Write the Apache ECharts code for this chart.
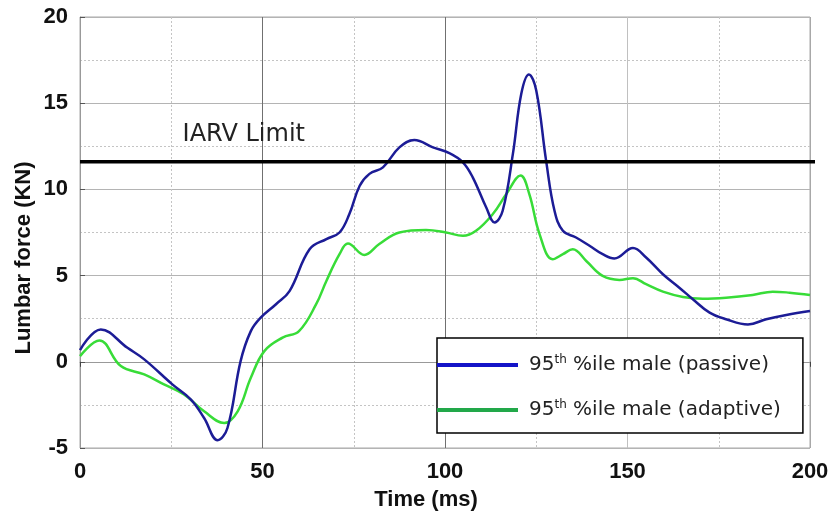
<!DOCTYPE html>
<html>
<head>
<meta charset="utf-8">
<script src="https://cdn.jsdelivr.net/npm/echarts@6/dist/echarts.min.js"></script>
<style>
html,body{margin:0;padding:0;background:#fff;}
#chart{width:832px;height:519px;}
</style>
</head>
<body>
<div id="chart"></div>
<script>
var passiveName = '95th %ile male (passive)';
var adaptiveName = '95th %ile male (adaptive)';

var passiveTime = [0, 5.7, 13, 17.6, 25.3, 30.4, 34, 37.7, 40.4, 44, 46.8, 49.5, 53.7, 57.4, 62.9, 67.5, 71.1, 73.8, 76.6, 79.3, 83, 87.5, 91.6, 96.7, 101.2, 104.9, 107.6, 111.3, 113.6, 115.8, 118.6, 120.9, 123, 125, 127.7, 130, 132.3, 135.9, 139.6, 143.2, 146.4, 151.5, 155.1, 159.7, 164.2, 167.9, 172.5, 177, 183, 188, 193.5, 200];
var passiveForce = [0.68, 1.88, 0.81, 0.14, -1.31, -2.19, -3.26, -4.55, -3.84, 0.04, 1.78, 2.56, 3.34, 4.1, 6.53, 7.12, 7.5, 8.57, 10.2, 10.9, 11.28, 12.44, 12.87, 12.44, 12.1, 11.57, 10.7, 8.95, 8.08, 8.76, 12.06, 15.55, 16.67, 15.74, 11.67, 8.76, 7.6, 7.21, 6.73, 6.24, 5.99, 6.6, 6.05, 5.08, 4.3, 3.63, 2.85, 2.47, 2.17, 2.47, 2.72, 2.95];

var adaptiveTime = [0, 5.3, 11.2, 17.6, 23, 28.5, 34, 39.5, 43.2, 46.8, 50.5, 55.5, 60, 64.7, 67.5, 71.1, 73.4, 77.9, 82, 87.5, 94.8, 100.3, 104.9, 108.5, 113.1, 116.8, 120.7, 123.1, 125.9, 129.5, 132.3, 135, 138.7, 143.2, 147.8, 151.5, 155.1, 159.7, 165.2, 170.6, 177, 184.3, 189.8, 194.4, 200];
var adaptiveForce = [0.33, 1.24, -0.25, -0.73, -1.31, -1.9, -2.87, -3.55, -2.87, -0.93, 0.62, 1.4, 1.78, 3.34, 4.69, 6.24, 6.86, 6.2, 6.83, 7.5, 7.64, 7.5, 7.31, 7.6, 8.57, 9.73, 10.8, 9.73, 7.41, 5.95, 6.24, 6.53, 5.85, 4.98, 4.75, 4.85, 4.5, 4.07, 3.76, 3.66, 3.72, 3.88, 4.07, 4.01, 3.88];

var xTicks = [0, 50, 100, 150, 200];
var yTicks = [-5, 0, 5, 10, 15, 20];
var iarvLimit = 11.6;
var iarvLabel = 'IARV Limit';
var iarvLabelAt = [28.1, 13.15];

function pairs(xs, ys) { return xs.map(function (x, i) { return [x, ys[i]]; }); }

var chart = echarts.init(document.getElementById('chart'), null, {renderer: 'canvas'});
var tickFont = {fontFamily: 'Liberation Sans, Arial, sans-serif', fontWeight: 'bold', fontSize: 22, color: '#111'};

chart.setOption({
  animation: false,
  backgroundColor: '#fff',
  grid: {left: 80, right: 22, top: 17, bottom: 71, show: true, borderColor: '#a8a8a8', borderWidth: 1, outerBoundsMode: 'none'},
  xAxis: {
    type: 'value', min: xTicks[0], max: xTicks[xTicks.length - 1], interval: 50,
    name: 'Time (ms)', nameLocation: 'middle', nameGap: 41, nameMoveOverlap: false,
    nameTextStyle: Object.assign({}, tickFont, {padding: [0, 38, 0, 0]}),
    axisLine: {show: true, lineStyle: {color: '#999', width: 1}},
    axisTick: {show: true, inside: false, length: 5, lineStyle: {color: '#444'}},
    axisLabel: Object.assign({}, tickFont, {margin: 13}),
    splitLine: {show: true, lineStyle: {color: ['#a8a8a8', '#707070', '#707070', '#c0c0c0', '#a8a8a8'], width: 1}},
    minorTick: {show: false, splitNumber: 2},
    minorSplitLine: {show: true, lineStyle: {color: '#c4c4c4', type: [2, 2], width: 1}}
  },
  yAxis: {
    type: 'value', min: yTicks[0], max: yTicks[yTicks.length - 1], interval: 5,
    name: 'Lumbar force (KN)', nameLocation: 'middle', nameGap: 45, nameMoveOverlap: false,
    nameTextStyle: Object.assign({}, tickFont, {padding: [0, 51, 0, 0]}),
    axisLine: {show: true, lineStyle: {color: '#999', width: 1}},
    axisTick: {show: true, inside: true, length: 5, lineStyle: {color: '#555'}},
    axisLabel: Object.assign({}, tickFont, {margin: 12}),
    splitLine: {show: true, lineStyle: {color: '#b4b4b4', width: 1}},
    minorTick: {show: false, splitNumber: 2},
    minorSplitLine: {show: true, lineStyle: {color: '#c4c4c4', type: [2, 2], width: 1}}
  },
  legend: {
    orient: 'vertical', left: 437, top: 338,
    padding: [15, 22, 11, 0],
    itemWidth: 81, itemHeight: 4, itemGap: 21, icon: 'rect',
    backgroundColor: '#fff', borderColor: '#000', borderWidth: 1.5, borderRadius: 0,
    data: [
      {name: passiveName, itemStyle: {color: '#1414c8'}},
      {name: adaptiveName, itemStyle: {color: '#22a84a'}}
    ],
    formatter: function (n) { return n.replace('95th', '95{sup|th}'); },
    textStyle: {
      fontFamily: 'DejaVu Sans', fontSize: 20, color: '#222', lineHeight: 24, padding: [0, 0, 0, 6],
      rich: {sup: {fontFamily: 'DejaVu Sans', fontSize: 12, color: '#222', padding: [0, 0, 10, 0]}}
    }
  },
  series: [
    {
      name: passiveName, type: 'line', smooth: 0.4, showSymbol: false,
      data: pairs(passiveTime, passiveForce),
      lineStyle: {color: '#1c1c96', width: 2.5}, itemStyle: {color: '#1414c8'}, z: 3
    },
    {
      name: adaptiveName, type: 'line', smooth: 0.4, showSymbol: false,
      data: pairs(adaptiveTime, adaptiveForce),
      lineStyle: {color: '#38dc38', width: 2.5}, itemStyle: {color: '#22a84a'}, z: 2
    }
  ]
});

var leftEnd = chart.convertToPixel({gridIndex: 0}, [xTicks[0], iarvLimit]);
var rightEnd = chart.convertToPixel({gridIndex: 0}, [xTicks[xTicks.length - 1], iarvLimit]);
var labelPos = chart.convertToPixel({gridIndex: 0}, iarvLabelAt);
chart.setOption({
  graphic: [
    {type: 'line', z: 50, shape: {x1: leftEnd[0], y1: leftEnd[1], x2: rightEnd[0] + 5, y2: rightEnd[1]}, style: {stroke: '#000', lineWidth: 3.5}},
    {type: 'text', z: 50, x: labelPos[0], y: labelPos[1], style: {text: iarvLabel, fontFamily: 'DejaVu Sans', fontSize: 24, fill: '#222', align: 'left', verticalAlign: 'middle'}}
  ]
});
</script>
</body>
</html>
